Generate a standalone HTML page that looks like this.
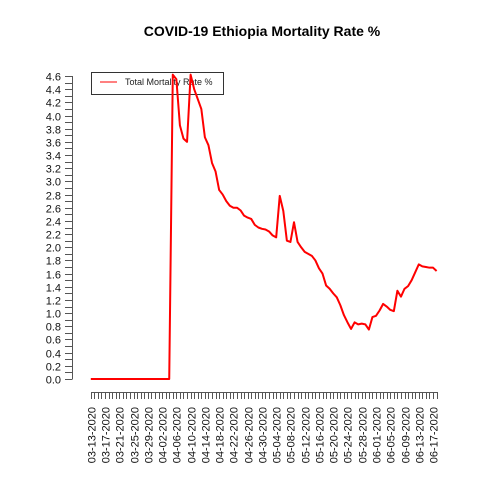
<!DOCTYPE html>
<html><head><meta charset="utf-8"><style>
html,body{margin:0;padding:0;background:#fff;}
svg{display:block;font-family:"Liberation Sans",Arial,sans-serif;}
</style></head><body>
<svg id="chart" width="480" height="480" viewBox="0 0 480 480">
<text x="262" y="36" text-anchor="middle" font-size="14" font-weight="bold">COVID-19 Ethiopia Mortality Rate %</text>
<g id="yaxis"></g>
<g id="xaxis"></g>
<g>
<rect x="91.5" y="72.5" width="132" height="22" fill="#fff" stroke="#333" stroke-width="1"/>
<line x1="100" y1="82" x2="117" y2="82" stroke="#ff0000" stroke-width="1"/>
<text x="125" y="85" font-size="9" fill="#222">Total Mortality Rate %</text>
</g>
<g id="series"></g>
</svg>
<script>
const startDate = [2020, 3, 13];
const values = [0,0,0,0,0,0,0,0,0,0,0,0,0,0,0,0,0,0,0,0,0,0,0,
4.62,4.55,3.85,3.65,3.6,4.62,4.4,4.25,4.1,3.67,3.55,3.28,3.15,2.87,2.8,2.7,2.63,2.6,2.6,2.56,2.48,2.45,2.43,2.34,2.3,2.28,2.27,2.24,
2.18,2.15,2.78,2.55,2.1,2.08,2.38,2.08,2.0,1.93,1.9,1.87,1.8,1.68,1.6,1.42,1.37,1.3,1.24,1.12,0.97,0.86,0.76,0.86,0.83,0.84,0.83,0.75,
0.94,0.96,1.04,1.14,1.1,1.05,1.03,1.34,1.25,1.37,1.41,1.5,1.62,1.74,1.71,1.7,1.69,1.69,1.64];
const yTicks = [0,0.1,0.2,0.3,0.4,0.5,0.6,0.7,0.8,0.9,1.0,1.1,1.2,1.3,1.4,1.5,1.6,1.7,1.8,1.9,2.0,2.1,2.2,2.3,2.4,2.5,2.6,2.7,2.8,2.9,3.0,3.1,3.2,3.3,3.4,3.5,3.6,3.7,3.8,3.9,4.0,4.1,4.2,4.3,4.4,4.5,4.6];
const labelEvery = 4;

const NS = "http://www.w3.org/2000/svg";
const X0 = 90.8, X1 = 436.6, Y0 = 379, Y1 = 76, YMAX = 4.6;
const n = values.length;
function xs(i){ return X0 + (X1 - X0) * i / (n - 1); }
function ys(v){ return Y0 - (Y0 - Y1) * v / YMAX; }
function mk(tag, attrs){ const e = document.createElementNS(NS, tag); for (const k in attrs) e.setAttribute(k, attrs[k]); return e; }
function dateLabel(i){
  const d = new Date(startDate[0], startDate[1]-1, startDate[2] + i);
  const p = v => String(v).padStart(2,'0');
  return p(d.getMonth()+1) + '-' + p(d.getDate()) + '-' + d.getFullYear();
}

const ya = document.getElementById('yaxis');
const yl = mk('line', {x1:72.5, y1:ys(yTicks[yTicks.length-1]), x2:72.5, y2:ys(yTicks[0]), stroke:'#555', 'stroke-width':1});


ya.appendChild(yl);
yTicks.forEach((t, k) => {
  const y = Math.round(ys(t)) + 0.5;
  const tk = mk('line', {x1:65, y1:y, x2:72.5, y2:y, stroke:'#555', 'stroke-width':1});
  
  
  ya.appendChild(tk);
  if (k % 2 === 0) {
    const tx = mk('text', {x:61, y:y+4, 'text-anchor':'end', 'font-size':11, fill:'#111'});
    tx.textContent = t.toFixed(1);
    
    
    ya.appendChild(tx);
  }
});

const xa = document.getElementById('xaxis');
for (let i = 0; i < n; i++) {
  const x = Math.round(xs(i)) + 0.5;
  const tk = mk('line', {x1:x, y1:392, x2:x, y2:399, stroke:'#555', 'stroke-width':1});
  
  
  xa.appendChild(tk);
  if (i % labelEvery === 0) {
    const tx = mk('text', {x:0, y:0, 'text-anchor':'end', 'font-size':11, fill:'#111', transform:'translate(' + (x+4) + ',407) rotate(-90)'});
    tx.textContent = dateLabel(i);
    
    
    xa.appendChild(tx);
  }
}
const xl = mk('line', {x1:Math.round(xs(0))+0.5, y1:392.5, x2:Math.round(xs(n-1))+0.5, y2:392.5, stroke:'#555', 'stroke-width':1});


xa.appendChild(xl);

const pts = values.map((v, i) => xs(i).toFixed(2) + ',' + ys(v).toFixed(2)).join(' ');
const pl = mk('polyline', {points:pts, fill:'none', stroke:'#ff0000', 'stroke-width':2, 'stroke-linejoin':'round'});


document.getElementById('series').appendChild(pl);
</script>
</body></html>
